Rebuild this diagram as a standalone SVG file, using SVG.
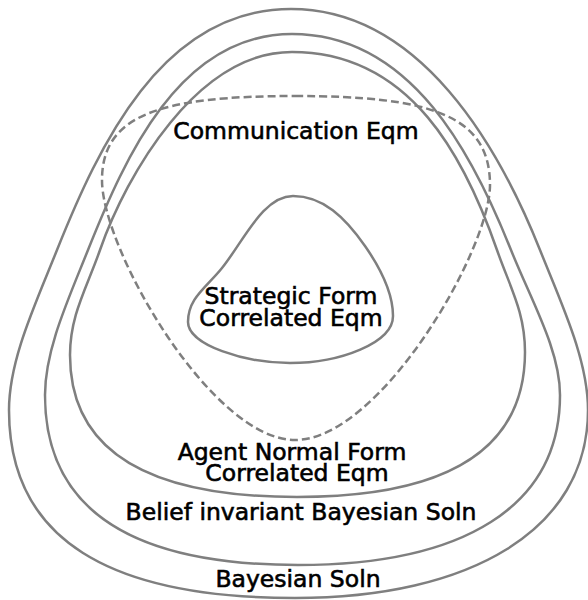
<svg xmlns="http://www.w3.org/2000/svg" width="588" height="600" viewBox="0 0 588 600">
  <style>
    .region { fill: none; stroke: #7f7f7f; stroke-width: 2.5; }
    .dashed { stroke-dasharray: 8 4; }
    .label { font-family: "DejaVu Sans", "Liberation Sans", sans-serif; font-size: 23.5px; fill: #000; stroke: #000; stroke-width: 0.6; text-anchor: middle; }
  </style>
  <rect x="0" y="0" width="588" height="600" fill="#fff"/>

  <g id="bayesian-soln">
    <path class="region" d="M291,9 C161,9 98,148 57,250 C34.7,305.7 9,360 9,410 C9,540 110,598 295,598 C470,598 588,530 588,410 C588,360 562.3,305.7 540,250 C499.2,147.9 421,9 291,9 Z"/>
    <text class="label" x="298" y="587">Bayesian Soln</text>
  </g>

  <g id="belief-invariant">
    <path class="region" d="M292,34 C179,34 124.7,158.1 88,250 C67.6,301 45,350 45,395 C45,512 134,565 298,565 C463,565 560,507 560,395 C560,350 531.4,301 511,250 C474.3,158.1 413,34 292,34 Z"/>
    <text class="label" x="301" y="520">Belief invariant Bayesian Soln</text>
  </g>

  <g id="agent-normal-form">
    <path class="region" d="M292,52 C197,52 126.4,174.5 100,250 C86.8,287.8 70,315 70,355 C70,450 147,497 297,497 C447,497 525,450 525,352 C525,312 510.2,287.8 497,250 C465.7,160.3 412,52 292,52 Z"/>
    <text class="label" x="292" y="460">Agent Normal Form</text>
    <text class="label" x="297" y="481">Correlated Eqm</text>
  </g>

  <g id="communication-eqm">
    <path class="region dashed" d="M295,96 C430,96 490,115 490,185 C490,250 380,440 295,440 C212,440 102,250 102,180 C102,115 160,96 295,96 Z"/>
    <text class="label" x="296" y="139">Communication Eqm</text>
  </g>

  <g id="strategic-form">
    <path class="region" d="M293,196 C263,196 243.9,240.7 222,268 C206.4,287.5 188,298 188,322 C188,345 245,363 290,363 C340,363 393,343 393,316 C393,292 381,269 365,246 C345,217.3 323,196 293,196 Z"/>
    <text class="label" x="291" y="304">Strategic Form</text>
    <text class="label" x="291" y="326">Correlated Eqm</text>
  </g>
</svg>
